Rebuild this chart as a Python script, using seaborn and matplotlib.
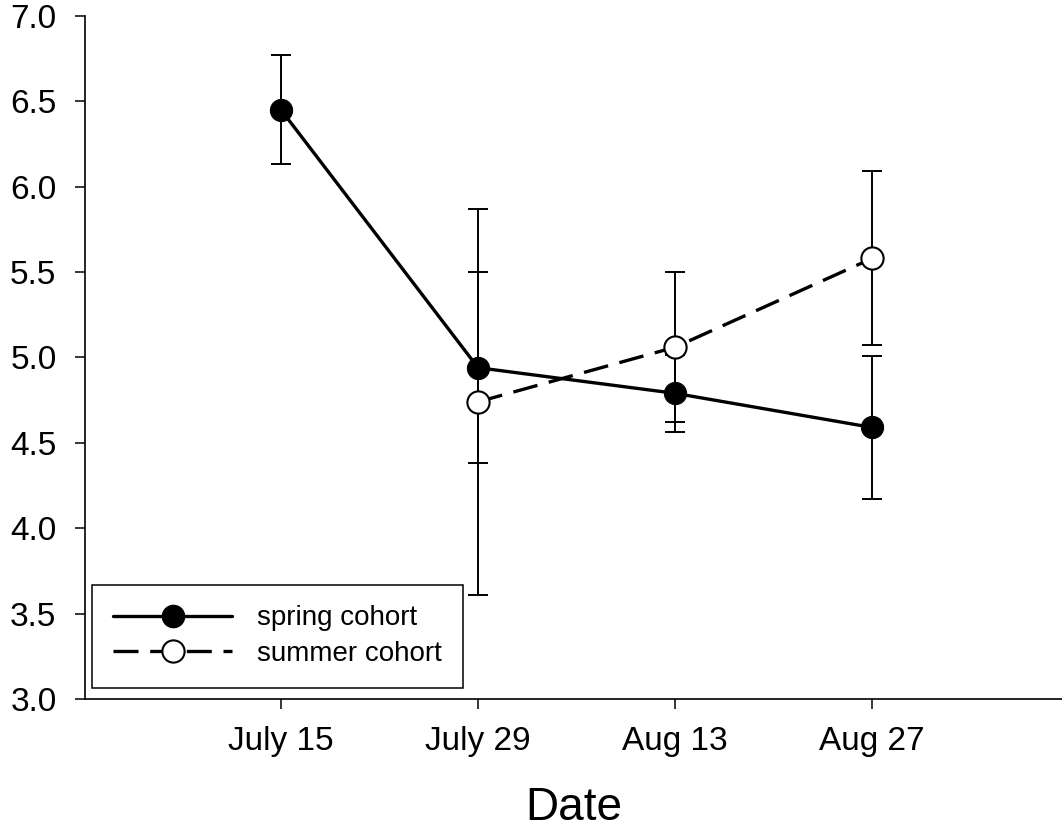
import numpy as np
import pandas as pd
import matplotlib
matplotlib.use("Agg")
import matplotlib.pyplot as plt
import seaborn as sns
from matplotlib.lines import Line2D

# -------------------------------
# Data
# -------------------------------
dates = ["July 15", "July 29", "Aug 13", "Aug 27"]
spring_mean = [6.45, 4.94, 4.79, 4.59]
spring_err = [0.32, 0.56, 0.225, 0.42]
summer_mean = [np.nan, 4.74, 5.06, 5.58]
summer_err = [np.nan, 1.13, 0.44, 0.51]

pos = np.arange(len(dates))
spring = pd.DataFrame({"x": pos, "y": spring_mean, "err": spring_err})
summer = pd.DataFrame({"x": pos, "y": summer_mean, "err": summer_err}).dropna()

# -------------------------------
# Plot
# -------------------------------
sns.set_style("ticks")
plt.rcParams["font.family"] = ["Liberation Sans", "DejaVu Sans"]

LW = 2.4
MS = 16
DASH = (0, (7.5, 3.5))

fig = plt.figure(figsize=(10.62, 8.34), dpi=100)
ax = fig.add_axes([0.08, 0.1619, 0.92, 0.819])

# error bars first so markers sit on top
for d in (spring, summer):
    ax.errorbar(d["x"], d["y"], yerr=d["err"], fmt="none", ecolor="black",
                elinewidth=1.4, capsize=7.5, capthick=1.4, zorder=1)

sns.lineplot(data=spring, x="x", y="y", ax=ax, color="black", linewidth=LW,
             marker="o", markersize=MS, markerfacecolor="black",
             markeredgecolor="black", zorder=3)
sns.lineplot(data=summer, x="x", y="y", ax=ax, color="black", linewidth=LW,
             linestyle=DASH, marker="o", markersize=MS,
             markerfacecolor="white", markeredgecolor="black",
             markeredgewidth=1.5, zorder=3)

ax.set_xlim(-0.995, 3.964)
ax.set_ylim(3.0, 7.0)
ax.set_xticks(pos)
ax.set_xticklabels(dates)
yt = np.arange(3.0, 7.01, 0.5)
ax.set_yticks(yt)
ax.set_yticklabels([f"{v:.1f}" for v in yt])
ax.tick_params(axis="both", labelsize=24, length=7.5, width=1.1,
               color="black", labelcolor="black")
ax.tick_params(axis="x", pad=12)
ax.tick_params(axis="y", pad=13)
ax.set_ylabel("")
ax.set_xlabel("Date", fontsize=33, labelpad=21, color="black")

sns.despine(ax=ax)
for s in ["left", "bottom"]:
    ax.spines[s].set_linewidth(1.2)
    ax.spines[s].set_color("black")

# -------------------------------
# Legend
# -------------------------------
handles = [
    Line2D([], [], color="black", linewidth=LW, marker="o", markersize=MS,
           markerfacecolor="black", markeredgecolor="black"),
    Line2D([], [], color="black", linewidth=LW, linestyle=DASH,
           marker="o", markersize=MS, markerfacecolor="white",
           markeredgecolor="black", markeredgewidth=1.5),
]
leg = ax.legend(handles, ["spring cohort", "summer cohort"],
                loc="lower left", bbox_to_anchor=(0.0072, 0.016, 0.38, 0.15),
                mode="expand", fontsize=20, handlelength=4.3, handletextpad=0.9,
                borderpad=0.75, labelspacing=0.35, fancybox=False, framealpha=1,
                edgecolor="black", borderaxespad=0)
leg.get_frame().set_linewidth(1.1)
for t in leg.get_texts():
    t.set_color("black")

plt.savefig("out.png", dpi=100)
